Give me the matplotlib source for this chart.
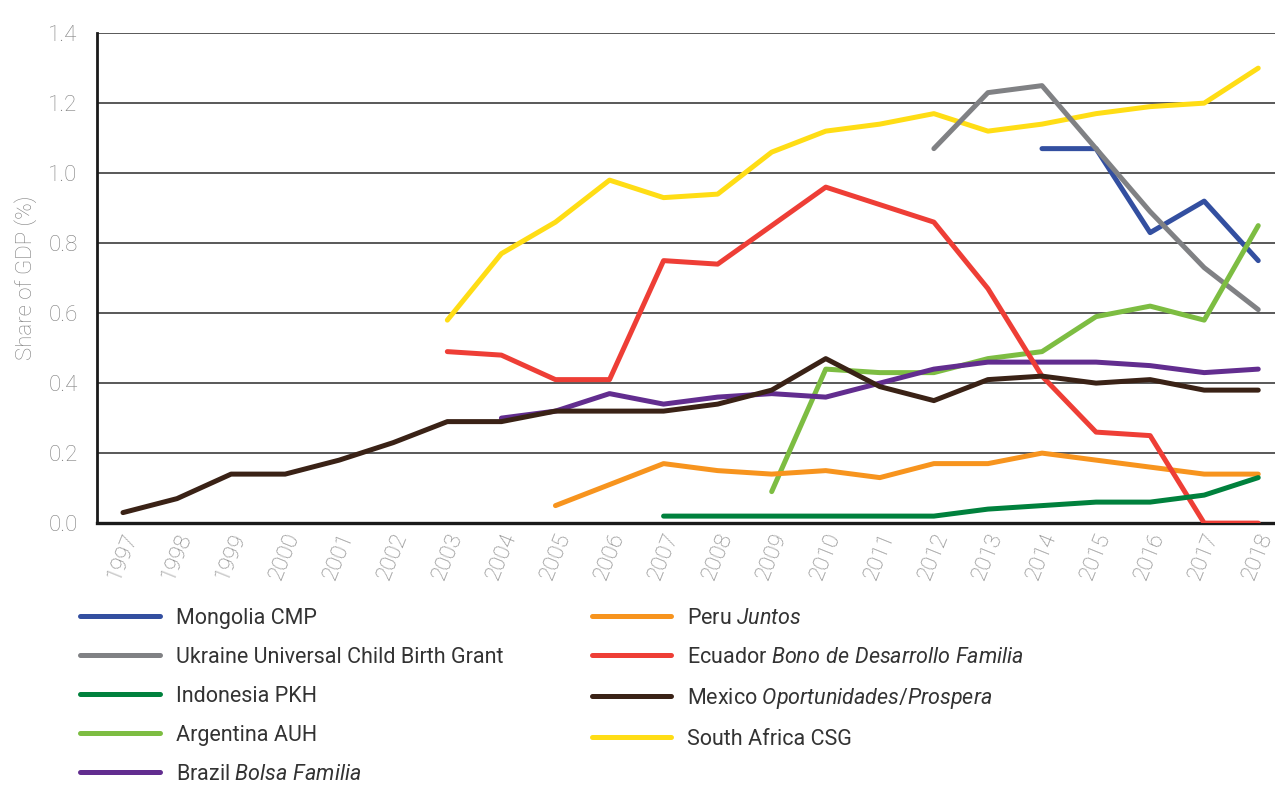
import matplotlib
matplotlib.use("Agg")
import matplotlib.pyplot as plt
from matplotlib.lines import Line2D

plt.rcParams["font.family"] = ["Roboto", "DejaVu Sans"]
plt.rcParams["mathtext.fontset"] = "custom"
plt.rcParams["mathtext.rm"] = "Roboto"
plt.rcParams["mathtext.it"] = "Roboto:italic"

# values (share of GDP, %)
mongolia_years = [2014, 2015, 2016, 2017, 2018]
mongolia = [1.07, 1.07, 0.83, 0.92, 0.75]

ukraine_years = [2012, 2013, 2014, 2015, 2016, 2017, 2018]
ukraine = [1.07, 1.23, 1.25, 1.07, 0.89, 0.73, 0.61]

indonesia_years = list(range(2007, 2019))
indonesia = [0.02, 0.02, 0.02, 0.02, 0.02, 0.02, 0.04, 0.05, 0.06, 0.06, 0.08, 0.13]

argentina_years = list(range(2009, 2019))
argentina = [0.09, 0.44, 0.43, 0.43, 0.47, 0.49, 0.59, 0.62, 0.58, 0.85]

brazil_years = list(range(2004, 2019))
brazil = [0.30, 0.32, 0.37, 0.34, 0.36, 0.37, 0.36, 0.40, 0.44, 0.46, 0.46,
          0.46, 0.45, 0.43, 0.44]

peru_years = list(range(2005, 2019))
peru = [0.05, 0.11, 0.17, 0.15, 0.14, 0.15, 0.13, 0.17, 0.17, 0.20, 0.18,
        0.16, 0.14, 0.14]

ecuador_years = list(range(2003, 2019))
ecuador = [0.49, 0.48, 0.41, 0.41, 0.75, 0.74, 0.85, 0.96, 0.91, 0.86, 0.67,
           0.42, 0.26, 0.25, 0.0, 0.0]

mexico_years = list(range(1997, 2019))
mexico = [0.03, 0.07, 0.14, 0.14, 0.18, 0.23, 0.29, 0.29, 0.32, 0.32, 0.32,
          0.34, 0.38, 0.47, 0.39, 0.35, 0.41, 0.42, 0.40, 0.41, 0.38, 0.38]

safrica_years = list(range(2003, 2019))
safrica = [0.58, 0.77, 0.86, 0.98, 0.93, 0.94, 1.06, 1.12, 1.14, 1.17, 1.12,
           1.14, 1.17, 1.19, 1.20, 1.30]

year_ticks = list(range(1997, 2019))
y_ticks = [0.0, 0.2, 0.4, 0.6, 0.8, 1.0, 1.2, 1.4]

# (label, years, values, colour, zorder) in legend order
series = [
    ("Mongolia CMP", mongolia_years, mongolia, "#334fa0", 4),
    ("Ukraine Universal Child Birth Grant", ukraine_years, ukraine, "#808184", 5),
    ("Indonesia PKH", indonesia_years, indonesia, "#00813d", 9),
    ("Argentina AUH", argentina_years, argentina, "#7dbd42", 6),
    ("Brazil $\\it{Bolsa\\ Familia}$", brazil_years, brazil, "#622d8f", 7),
    ("Peru $\\it{Juntos}$", peru_years, peru, "#f7941e", 6),
    ("Ecuador $\\it{Bono\\ de\\ Desarrollo\\ Familia}$", ecuador_years, ecuador, "#ee3e36", 8),
    ("Mexico $\\it{Oportunidades/Prospera}$", mexico_years, mexico, "#3a2216", 8),
    ("South Africa CSG", safrica_years, safrica, "#ffdd15", 3),
]

fig = plt.figure(figsize=(12.75, 7.89), dpi=100)
ax = fig.add_axes([0.0761, 0.337, 0.9239, 0.621])

handles = []
for label, xs, ys, color, z in series:
    ax.plot(xs, ys, color=color, linewidth=3.6, solid_capstyle="round",
            solid_joinstyle="round", zorder=z)
    handles.append(Line2D([], [], color=color, linewidth=3.6,
                          solid_capstyle="round", label=label))

ax.set_xlim(1996.52, 2018.31)
ax.set_ylim(0, 1.4)
ax.set_yticks(y_ticks)
ax.set_yticklabels([f"{v:.1f}" for v in y_ticks])
ax.set_xticks(year_ticks)
ax.set_xticklabels([str(y) for y in year_ticks], rotation=68)

for v in y_ticks[1:]:
    ax.axhline(v, color="#2b2b2b", linewidth=1.1, zorder=1)

for side in ("top", "right"):
    ax.spines[side].set_visible(False)
ax.spines["left"].set_color("#1a1a1a")
ax.spines["left"].set_linewidth(2.0)
ax.spines["bottom"].set_color("#1a1a1a")
ax.spines["bottom"].set_linewidth(2.4)

ax.tick_params(axis="both", length=0, labelsize=16, labelcolor="#7f7f7f")
ax.tick_params(axis="y", pad=14)
ax.tick_params(axis="x", pad=5)
for t in ax.get_xticklabels() + ax.get_yticklabels():
    t.set_fontweight("light")

ax.set_ylabel("Share of GDP (%)", fontsize=16, color="#7f7f7f", fontweight="light")
ax.yaxis.set_label_coords(-0.051, 0.5)

fig.legend(handles=handles, loc="upper left", bbox_to_anchor=(0.0627, 0.23),
           ncol=2, frameon=False, fontsize=15.5, handlelength=3.7,
           handletextpad=0.75, columnspacing=4.1, labelspacing=0.84,
           borderpad=0, borderaxespad=0, labelcolor="#333333")

fig.savefig("out.png", dpi=100)
